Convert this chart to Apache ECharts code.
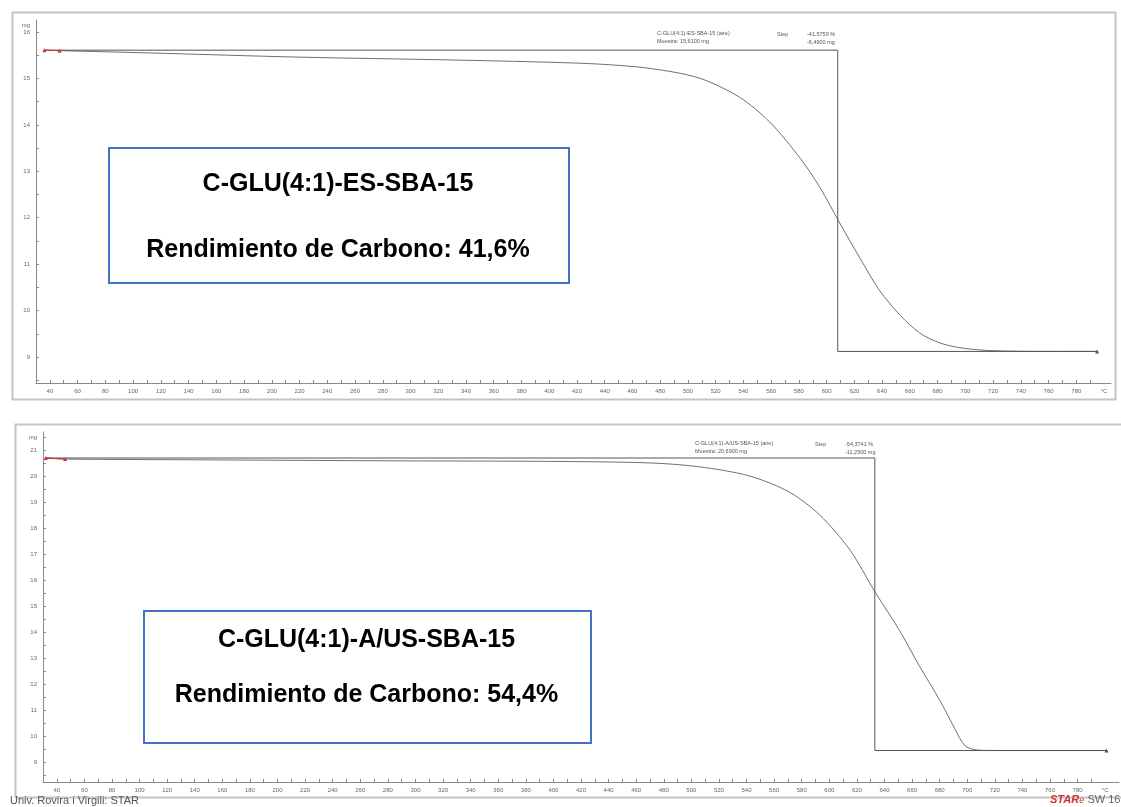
<!DOCTYPE html>
<html>
<head>
<meta charset="utf-8">
<script src="https://cdn.jsdelivr.net/npm/echarts@6/dist/echarts.min.js"></script>
<style>
  html, body { margin: 0; padding: 0; background: #ffffff; }
  #chart { width: 1121px; height: 807px; }
</style>
</head>
<body>
<div id="chart"></div>
<script>
// TGA curves (temperature in °C, sample mass in mg)
const tempTop = [36, 47, 112, 220, 328, 400, 436, 472, 508, 537, 559, 581, 595, 609, 624, 638, 653, 667, 681, 696, 717, 761, 795];
const massTop = [15.61, 15.60, 15.55, 15.46, 15.40, 15.35, 15.31, 15.22, 15.01, 14.60, 14.06, 13.28, 12.66, 11.91, 11.13, 10.44, 9.90, 9.52, 9.31, 9.20, 9.14, 9.12, 9.12];

const tempBottom = [32, 46, 144, 289, 397, 470, 506, 542, 571, 593, 615, 633, 651, 665, 680, 691, 698, 705, 714, 740, 801];
const massBottom = [20.69, 20.65, 20.62, 20.58, 20.56, 20.50, 20.35, 20.00, 19.38, 18.50, 17.15, 15.55, 14.05, 12.72, 11.38, 10.28, 9.64, 9.48, 9.445, 9.44, 9.44];

// Step evaluation: [start temp, step temp, end temp] and [start mass, end mass]
const stepTempsTop = [36, 608, 795];
const stepMassTop = [15.61, 9.12];
const stepTempsBottom = [32, 633, 801];
const stepMassBottom = [20.69, 9.44];

// Tick labels
const xTickLabels = [40, 60, 80, 100, 120, 140, 160, 180, 200, 220, 240, 260, 280, 300, 320, 340, 360, 380, 400, 420, 440, 460, 480, 500, 520, 540, 560, 580, 600, 620, 640, 660, 680, 700, 720, 740, 760, 780];
const xUnitAt = 800;
const yTickLabelsTop = [9, 10, 11, 12, 13, 14, 15, 16];
const yTickLabelsBottom = [9, 10, 11, 12, 13, 14, 15, 16, 17, 18, 19, 20, 21];

const sampleTop = 'C-GLU(4:1)-ES-SBA-15';
const sampleBottom = 'C-GLU(4:1)-A/US-SBA-15';

const fmt = (v, d) => v.toFixed(d).replace('.', ',');
const stepPct = m => (m[0] - m[1]) / m[0] * 100;

const pair = (xs, ys) => xs.map((x, i) => [x, ys[i]]);
const stepPath = (t, m) => [[t[0], m[0]], [t[1], m[0]], [t[1], m[1]], [t[2], m[1]]];

const axisGrey = '#8a8a8a';
const labelGrey = '#666666';

function xAxisFor(gridIndex, min, max) {
  return {
    type: 'value', gridIndex, min, max,
    axisLine: { show: true, onZero: false, lineStyle: { color: axisGrey, width: 1 } },
    axisTick: { show: true, inside: true, length: 3, lineStyle: { color: axisGrey },
      customValues: xTickLabels.flatMap(v => [v - 10, v]).concat([xUnitAt - 10]) },
    axisLabel: { show: true, fontSize: 6, color: labelGrey, margin: 5, fontFamily: 'Liberation Sans',
      customValues: xTickLabels.concat([xUnitAt]),
      formatter: v => (v === xUnitAt ? '°C' : String(v)) },
    splitLine: { show: false }
  };
}

function yAxisFor(gridIndex, min, max, ticks) {
  return {
    type: 'value', gridIndex, min, max,
    name: 'mg', nameLocation: 'end', nameGap: -5,
    nameTextStyle: { fontSize: 6, color: labelGrey, align: 'right', verticalAlign: 'middle', padding: [0, 6, 0, 0], fontFamily: 'Liberation Sans' },
    axisLine: { show: true, onZero: false, lineStyle: { color: axisGrey, width: 1 } },
    axisTick: { show: true, inside: true, length: 3, lineStyle: { color: axisGrey },
      customValues: ticks.flatMap(v => [v - 0.5, v]).concat([ticks[ticks.length - 1] + 0.5]).filter(v => v > min && v < max) },
    axisLabel: { show: true, fontSize: 6, color: labelGrey, margin: 6, fontFamily: 'Liberation Sans',
      customValues: ticks },
    splitLine: { show: false }
  };
}

function curveSeries(idx, xs, ys) {
  return {
    type: 'line', xAxisIndex: idx, yAxisIndex: idx, data: pair(xs, ys),
    showSymbol: false, smooth: 0.3, lineStyle: { color: '#707070', width: 1 }, silent: true, z: 3
  };
}

function startMarker(idx, xs, ys) {
  return {
    type: 'line', xAxisIndex: idx, yAxisIndex: idx, data: pair(xs.slice(0, 2), ys.slice(0, 2)),
    symbol: 'triangle', symbolSize: 4, showSymbol: true,
    lineStyle: { color: '#d23030', width: 1 }, itemStyle: { color: '#d23030' }, silent: true, z: 5
  };
}

function stepSeries(idx, t, m) {
  const d = stepPath(t, m);
  return {
    type: 'line', xAxisIndex: idx, yAxisIndex: idx, data: d,
    showSymbol: true, symbol: 'none',
    lineStyle: { color: '#555555', width: 1 }, silent: true, z: 4,
    markPoint: {
      symbol: 'triangle', symbolSize: 4, itemStyle: { color: '#555555' }, label: { show: false },
      data: [{ coord: d[3] }]
    }
  };
}

function stepText(left, top, sample, m) {
  const pct = stepPct(m);
  const dm = m[0] - m[1];
  const style = { fontSize: 5.5, fill: '#555555', fontFamily: 'Liberation Sans' };
  return [
    { type: 'text', left: left, top: top, style: Object.assign({ text: sample + ' (aire)' }, style) },
    { type: 'text', left: left, top: top + 8, style: Object.assign({ text: 'Muestra: ' + fmt(m[0], 4) + ' mg' }, style) },
    { type: 'text', left: left + 120, top: top + 1, style: Object.assign({ text: 'Step' }, style) },
    { type: 'text', left: left + 150, top: top + 1, style: Object.assign({ text: '-' + fmt(pct, 4) + ' %' }, style) },
    { type: 'text', left: left + 150, top: top + 9, style: Object.assign({ text: '-' + fmt(dm, 4) + ' mg' }, style) }
  ];
}

function labelBox(x, y, w, h, title, m, l1, l2) {
  const ts = { fontSize: 25, fontWeight: 'bold', fill: '#000000', fontFamily: 'Liberation Sans', align: 'center', verticalAlign: 'middle' };
  return [
    { type: 'rect', left: x, top: y, shape: { width: w, height: h },
      style: { fill: '#ffffff', stroke: '#4472c4', lineWidth: 2 }, z: 10 },
    { type: 'text', x: x + w / 2, y: y + l1, style: Object.assign({ text: title }, ts), z: 11 },
    { type: 'text', x: x + w / 2, y: y + l2,
      style: Object.assign({ text: 'Rendimiento de Carbono: ' + fmt(stepPct(m), 1) + '%' }, ts), z: 11 }
  ];
}

const chart = echarts.init(document.getElementById('chart'), null, { renderer: 'canvas' });

chart.setOption({
  backgroundColor: '#ffffff',
  animation: false,
  grid: [
    { left: 36, top: 20, width: 1075, height: 363, outerBoundsMode: 'none', containLabel: false },
    { left: 43, top: 432, width: 1076, height: 350, outerBoundsMode: 'none', containLabel: false }
  ],
  xAxis: [xAxisFor(0, 30, 805), xAxisFor(1, 30, 810)],
  yAxis: [yAxisFor(0, 8.44, 16.26, yTickLabelsTop), yAxisFor(1, 8.23, 21.69, yTickLabelsBottom)],
  series: [
    stepSeries(0, stepTempsTop, stepMassTop),
    curveSeries(0, tempTop, massTop),
    startMarker(0, tempTop, massTop),
    stepSeries(1, stepTempsBottom, stepMassBottom),
    curveSeries(1, tempBottom, massBottom),
    startMarker(1, tempBottom, massBottom)
  ],
  graphic: [
    // panel frames
    { type: 'rect', left: 10, top: 10, shape: { width: 1103, height: 387 },
      style: { fill: 'none', stroke: '#c4c4c4', lineWidth: 2 }, z: 0 },
    { type: 'rect', left: 13, top: 422, shape: { width: 1125, height: 373 },
      style: { fill: 'none', stroke: '#c4c4c4', lineWidth: 2 }, z: 0 }
  ]
    .concat(stepText(657, 30, sampleTop, stepMassTop))
    .concat(stepText(695, 440, sampleBottom, stepMassBottom))
    .concat(labelBox(108, 147, 460, 135, sampleTop, stepMassTop, 37, 103))
    .concat(labelBox(143, 610, 447, 132, sampleBottom, stepMassBottom, 30, 85))
    .concat([
      { type: 'text', left: 10, top: 795,
        style: { text: 'Univ. Rovira i Virgili: STAR', fontSize: 11, fill: '#555555', fontFamily: 'Liberation Sans' } },
      { type: 'text', left: 1050, top: 794,
        style: {
          text: '{r|STAR}{e|e} {g|SW 16.00}',
          rich: {
            r: { fontSize: 11, fill: '#d23030', fontStyle: 'italic', fontWeight: 'bold', fontFamily: 'Liberation Sans' },
            e: { fontSize: 9, fill: '#d23030', fontStyle: 'italic', fontFamily: 'Liberation Sans' },
            g: { fontSize: 11, fill: '#666666', fontFamily: 'Liberation Sans' }
          }
        } }
    ])
});
</script>
</body>
</html>
